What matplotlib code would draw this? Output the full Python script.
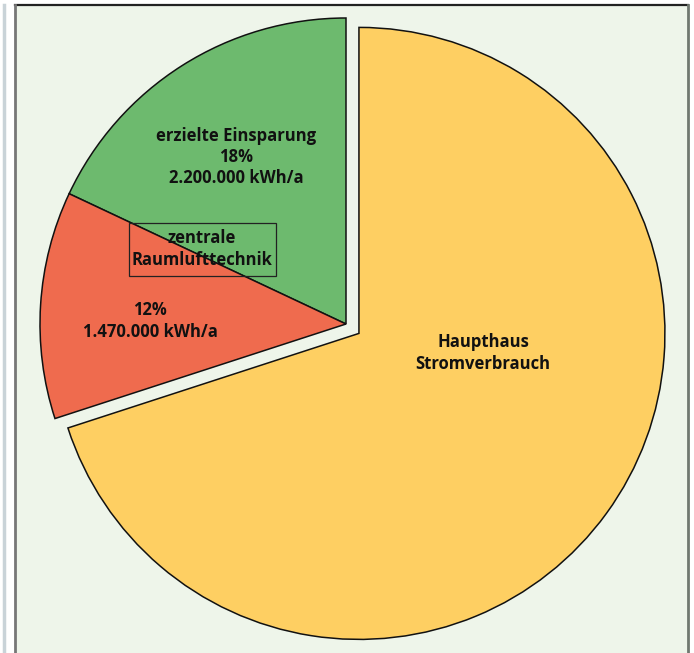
import matplotlib.pyplot as plt
from matplotlib.patches import Rectangle

# slices in drawing order (counter-clockwise from the top)
shares = [18, 12, 70]
colors = ['#6dba6e', '#ef6b4e', '#fecf62']
slice_labels = ['erzielte Einsparung\n18%\n2.200.000 kWh/a',
                '12%\n1.470.000 kWh/a',
                'Haupthaus\nStromverbrauch']
box_label = 'zentrale\nRaumlufttechnik'

W, H = 694, 653
fig = plt.figure(figsize=(W / 100, H / 100), dpi=100)
fig.patch.set_facecolor('white')
ax = fig.add_axes([0, 0, 1, 1])
ax.set_xlim(0, W)
ax.set_ylim(H, 0)
ax.axis('off')

# panel background and frame
ax.add_patch(Rectangle((15, 5), 673, 660, facecolor='#eef5ea', edgecolor='none', zorder=0))
ax.plot([15, 688], [5, 5], color='#222222', lw=1.6, zorder=1)
ax.plot([15, 15], [5, H], color='#777777', lw=2, zorder=1)
ax.plot([688, 688], [5, H], color='#707870', lw=2, zorder=1)
ax.plot([4, 4], [5, H], color='#c9d3d8', lw=2.5, zorder=1)

# pie in its own y-up axes overlaying the panel
pax = fig.add_axes([0, 0, 1, 1])
pax.pie(shares, colors=colors, startangle=90, counterclock=True,
        explode=[0, 0, 16], center=(346, H - 324), radius=306,
        wedgeprops=dict(edgecolor='#111111', linewidth=1.1),
        frame=True)
pax.set_xlim(0, W)
pax.set_ylim(0, H)
pax.set_aspect('equal')
pax.axis('off')

font = dict(family=['Open Sans', 'DejaVu Sans'], fontweight='bold', fontsize=12,
            color='#111111', ha='center', va='center', linespacing=1.22)
pax.text(236, H - 157, slice_labels[0], **font)
pax.text(150, H - 321, slice_labels[1], **font)
pax.text(483, H - 353, slice_labels[2], **font)
pax.text(202, H - 249, box_label, **font)
pax.add_patch(Rectangle((129, H - 276), 147, 53, facecolor='none',
                        edgecolor='#222222', linewidth=0.9, zorder=5))

fig.savefig('out.png', dpi=100, facecolor=fig.get_facecolor())
